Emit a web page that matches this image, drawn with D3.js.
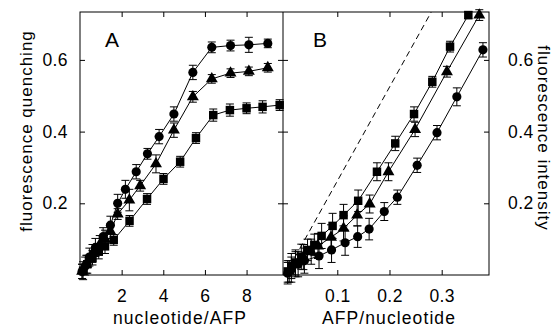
<!DOCTYPE html>
<html>
<head>
<meta charset="utf-8">
<script src="https://cdn.jsdelivr.net/npm/d3@7"></script>
<style>
  body { margin: 0; background: #fff; }
  text { font-family: "Liberation Sans", Arial, sans-serif; fill: #000; }
</style>
</head>
<body>
<div id="chart"></div>
<script>
// ---- data ----
// panel A: quenching vs nucleotide/AFP  [x, y, err]
const aCircles = [
  [0.1, 0.010, 0.02], [0.25, 0.025, 0.025], [0.45, 0.050, 0.025], [0.74, 0.077, 0.025],
  [1.11, 0.107, 0.025], [1.46, 0.139, 0.025], [1.81, 0.200, 0.025], [2.18, 0.239, 0.025],
  [2.70, 0.288, 0.02], [3.24, 0.338, 0.015], [3.80, 0.386, 0.02], [4.51, 0.449, 0.02],
  [5.42, 0.565, 0.02], [6.33, 0.635, 0.015], [7.23, 0.640, 0.015], [8.11, 0.642, 0.021],
  [9.02, 0.646, 0.012]
];
const aTriangles = [
  [0.1, 0.010, 0.02], [0.3, 0.030, 0.025], [0.6, 0.060, 0.025], [0.95, 0.085, 0.025],
  [1.2, 0.100, 0.025], [1.46, 0.122, 0.02], [1.81, 0.170, 0.015], [2.37, 0.209, 0.03],
  [2.89, 0.249, 0.015], [3.65, 0.310, 0.025], [4.51, 0.404, 0.02], [5.42, 0.497, 0.015],
  [6.33, 0.547, 0.012], [7.23, 0.563, 0.012], [8.11, 0.568, 0.012], [9.02, 0.578, 0.012]
];
const aSquares = [
  [0.15, 0.012, 0.025], [0.35, 0.030, 0.025], [0.6, 0.048, 0.02], [0.9, 0.065, 0.02],
  [1.2, 0.080, 0.02], [1.62, 0.098, 0.015], [2.38, 0.151, 0.015], [3.22, 0.212, 0.015],
  [4.01, 0.268, 0.015], [4.81, 0.316, 0.015], [5.57, 0.382, 0.015], [6.40, 0.446, 0.017],
  [7.20, 0.460, 0.017], [8.00, 0.465, 0.015], [8.77, 0.469, 0.017], [9.59, 0.474, 0.015]
];
// panel B: intensity vs AFP/nucleotide  [x, y, err]
const bSquares = [
  [0.005, 0.010, 0.03], [0.012, 0.025, 0.035], [0.020, 0.035, 0.035], [0.031, 0.051, 0.035],
  [0.043, 0.070, 0.03], [0.056, 0.084, 0.03], [0.070, 0.109, 0.035], [0.091, 0.137, 0.035],
  [0.112, 0.167, 0.03], [0.140, 0.207, 0.03], [0.176, 0.288, 0.025], [0.211, 0.367, 0.02],
  [0.247, 0.449, 0.02], [0.282, 0.539, 0.015], [0.316, 0.637, 0.015], [0.351, 0.725, 0.01]
];
const bTriangles = [
  [0.008, 0.010, 0.03], [0.020, 0.030, 0.035], [0.035, 0.050, 0.035], [0.050, 0.065, 0.035],
  [0.063, 0.081, 0.035], [0.088, 0.105, 0.035], [0.112, 0.130, 0.035], [0.138, 0.167, 0.03],
  [0.162, 0.198, 0.025], [0.198, 0.288, 0.025], [0.249, 0.406, 0.02], [0.310, 0.567, 0.015],
  [0.372, 0.725, 0.015]
];
const bCircles = [
  [0.005, 0.005, 0.03], [0.012, 0.015, 0.035], [0.025, 0.030, 0.035], [0.037, 0.040, 0.035],
  [0.065, 0.053, 0.035], [0.089, 0.070, 0.035], [0.115, 0.090, 0.035], [0.139, 0.107, 0.03],
  [0.161, 0.128, 0.03], [0.190, 0.177, 0.025], [0.215, 0.217, 0.02], [0.253, 0.306, 0.02],
  [0.291, 0.397, 0.02], [0.329, 0.497, 0.025], [0.379, 0.628, 0.02]
];
// dashed reference line in B (slope of the dashed line)
const bDashSlope = 2.62;

const aTicks = [2, 4, 6, 8];
const bTicks = [0.1, 0.2, 0.3];
const yTicks = [0.2, 0.4, 0.6];

// ---- layout ----
const W = 554, H = 327;
const pTop = 12, pBottom = 275, pLeft = 80, pMid = 283, pRight = 489;

const xA = d3.scaleLinear().domain([0, 9.75]).range([pLeft, pMid]);
const xB = d3.scaleLinear().domain([-0.004, 0.3906]).range([pMid, pRight]);
const y = d3.scaleLinear().domain([0, 0.7336]).range([pBottom, pTop]);

var svg = d3.select("#chart").append("svg")
            .attr("width", W)
            .attr("height", H);

// frame and divider
svg.append("rect")
   .attr("x", pLeft).attr("y", pTop)
   .attr("width", pRight - pLeft).attr("height", pBottom - pTop)
   .attr("fill", "none").attr("stroke", "#000");
svg.append("line")
   .attr("x1", pMid).attr("x2", pMid).attr("y1", pTop).attr("y2", pBottom)
   .attr("stroke", "#000");

// ticks, all pointing inward
function axis(gen, tx, ty, labels) {
  const g = svg.append("g")
     .attr("transform", "translate(" + tx + "," + ty + ")")
     .call(gen.tickSizeInner(-5).tickSizeOuter(0));
  g.select(".domain").remove();
  g.selectAll("text").style("font-size", "17.5px").style("letter-spacing", "0.4px");
  if (!labels) g.selectAll("text").remove();
  return g;
}
axis(d3.axisBottom(xA).tickValues(aTicks).tickPadding(15), 0, pBottom, true);
axis(d3.axisTop(xA).tickValues(aTicks), 0, pTop, false);
axis(d3.axisBottom(xB).tickValues(bTicks).tickPadding(15).tickFormat(d3.format(".1f")), 0, pBottom, true);
axis(d3.axisTop(xB).tickValues(bTicks), 0, pTop, false);
axis(d3.axisLeft(y).tickValues(yTicks).tickPadding(12).tickFormat(d3.format(".1f")), pLeft, 0, true);
axis(d3.axisRight(y).tickValues(yTicks), pMid, 0, false);
axis(d3.axisLeft(y).tickValues(yTicks), pMid, 0, false);
axis(d3.axisRight(y).tickValues(yTicks).tickPadding(19).tickFormat(d3.format(".1f")), pRight, 0, true);

// dashed line in B
svg.append("line")
   .attr("x1", xB(0)).attr("y1", y(0))
   .attr("x2", xB(y.domain()[1] / bDashSlope)).attr("y2", y(y.domain()[1]))
   .attr("stroke", "#000").attr("stroke-dasharray", "6,4");

const sym = {
  circle: d3.symbol().type(d3.symbolCircle).size(66),
  square: d3.symbol().type(d3.symbolSquare).size(72),
  triangle: d3.symbol().type(d3.symbolTriangle).size(62)
};

function series(data, x, shape) {
  const g = svg.append("g");
  g.append("path")
   .datum(data)
   .attr("fill", "none").attr("stroke", "#000").attr("stroke-width", 1)
   .attr("d", d3.line().x(d => x(d[0])).y(d => y(d[1])));
  // error bars
  const e = g.selectAll(".err").data(data).enter().append("g")
     .attr("stroke", "#000").attr("stroke-width", 1);
  e.append("line")
   .attr("x1", d => x(d[0])).attr("x2", d => x(d[0]))
   .attr("y1", d => y(d[1] - d[2])).attr("y2", d => y(d[1] + d[2]));
  e.append("line")
   .attr("x1", d => x(d[0]) - 4).attr("x2", d => x(d[0]) + 4)
   .attr("y1", d => y(d[1] - d[2])).attr("y2", d => y(d[1] - d[2]));
  e.append("line")
   .attr("x1", d => x(d[0]) - 4).attr("x2", d => x(d[0]) + 4)
   .attr("y1", d => y(d[1] + d[2])).attr("y2", d => y(d[1] + d[2]));
  g.selectAll(".pt").data(data).enter().append("path")
   .attr("d", sym[shape])
   .attr("transform", d => "translate(" + x(d[0]) + "," + y(d[1]) + ")")
   .attr("fill", "#000");
}
series(aSquares, xA, "square");
series(aTriangles, xA, "triangle");
series(aCircles, xA, "circle");
series(bCircles, xB, "circle");
series(bTriangles, xB, "triangle");
series(bSquares, xB, "square");

// panel letters
svg.append("text").attr("x", 105).attr("y", 47).style("font-size", "21px").text("A");
svg.append("text").attr("x", 313).attr("y", 47).style("font-size", "21px").text("B");

// axis titles
svg.append("text")
   .attr("text-anchor", "middle")
   .attr("x", 180).attr("y", 324)
   .style("font-size", "17.5px").style("letter-spacing", "1.1px")
   .text("nucleotide/AFP");
svg.append("text")
   .attr("text-anchor", "middle")
   .attr("x", 389).attr("y", 324)
   .style("font-size", "17.5px").style("letter-spacing", "1.1px")
   .text("AFP/nucleotide");
svg.append("text")
   .attr("text-anchor", "middle")
   .attr("transform", "translate(32,131)rotate(-90)")
   .style("font-size", "17px").style("letter-spacing", "1px")
   .text("fluorescence quenching");
svg.append("text")
   .attr("text-anchor", "middle")
   .attr("transform", "translate(538,138)rotate(90)")
   .style("font-size", "17px").style("letter-spacing", "1px")
   .text("fluorescence intensity");
</script>
</body>
</html>
